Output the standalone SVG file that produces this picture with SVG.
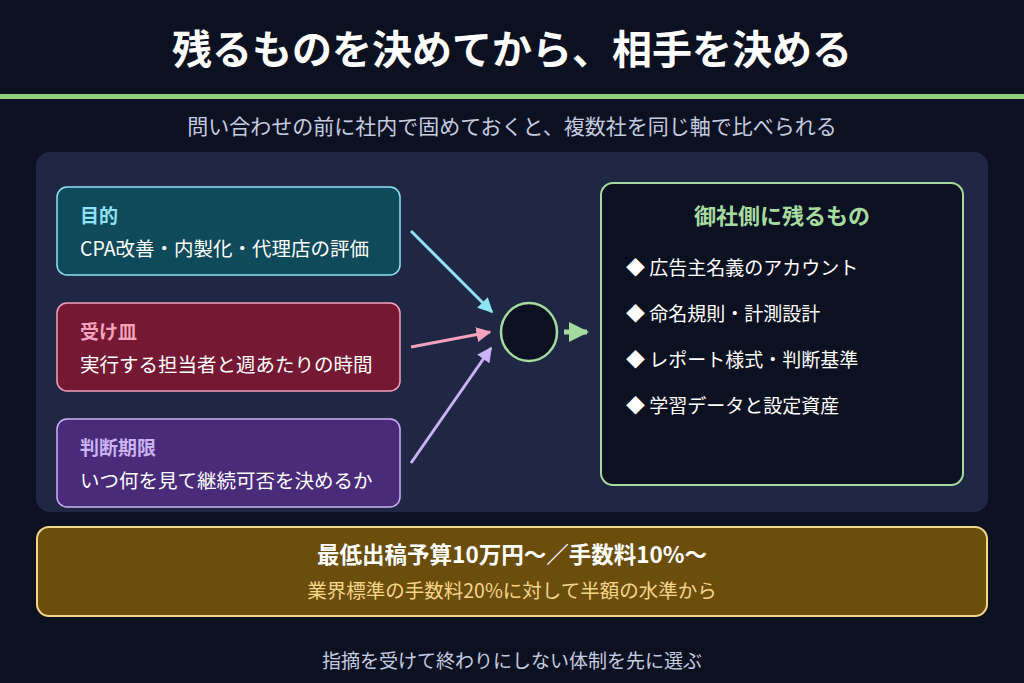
<svg xmlns="http://www.w3.org/2000/svg" width="1024" height="683" viewBox="0 0 1024 683">
<defs>
<style>
text{font-family:"Noto Sans CJK JP","Noto Sans",sans-serif}
.h{font-weight:700;font-size:19px}
.b{font-size:19.5px;fill:#ffffff}
.li{font-size:19px;fill:#ffffff}
</style>
<marker id="ac" viewBox="0 0 10 10" refX="9" refY="5" markerWidth="5" markerHeight="5" orient="auto"><path d="M0 0L10 5L0 10z" fill="#8ee3f5"/></marker>
<marker id="ap" viewBox="0 0 10 10" refX="9" refY="5" markerWidth="5" markerHeight="5" orient="auto"><path d="M0 0L10 5L0 10z" fill="#f5a3bd"/></marker>
<marker id="av" viewBox="0 0 10 10" refX="9" refY="5" markerWidth="5" markerHeight="5" orient="auto"><path d="M0 0L10 5L0 10z" fill="#cbb2f5"/></marker>
<marker id="ag" viewBox="0 0 10 10" refX="9" refY="5" markerWidth="4" markerHeight="4" orient="auto"><path d="M0 0L10 5L0 10z" fill="#a6dba0"/></marker>
</defs>
<rect width="1024" height="683" fill="#0c1122"/>
<rect y="94" width="1024" height="5" fill="#8bd07a"/>
<text x="512" y="64" text-anchor="middle" font-size="40" font-weight="700" fill="#ffffff">残るものを決めてから、相手を決める</text>
<text x="512" y="134" text-anchor="middle" font-size="21" fill="#c5cce0">問い合わせの前に社内で固めておくと、複数社を同じ軸で比べられる</text>
<rect x="36" y="152" width="952" height="360" rx="14" fill="#1f2744"/>
<g id="n1"><rect x="57" y="187" width="343" height="88" rx="10" fill="#0f4a5a" stroke="#8ee3f5" stroke-width="1.5"/><text class="h" x="80" y="223" fill="#8ee3f5">目的</text><text class="b" x="80" y="256">CPA改善・内製化・代理店の評価</text></g>
<g id="n2"><rect x="57" y="303" width="343" height="88" rx="10" fill="#751834" stroke="#f5a3bd" stroke-width="1.5"/><text class="h" x="80" y="339" fill="#f5a3bd">受け皿</text><text class="b" x="80" y="372">実行する担当者と週あたりの時間</text></g>
<g id="n3"><rect x="57" y="419" width="343" height="88" rx="10" fill="#4a2b7a" stroke="#cbb2f5" stroke-width="1.5"/><text class="h" x="80" y="455" fill="#cbb2f5">判断期限</text><text class="b" x="80" y="488">いつ何を見て継続可否を決めるか</text></g>
<g id="hub"><ellipse cx="529" cy="332" rx="28" ry="29" fill="#0c1122" stroke="#a6dba0" stroke-width="2.5"/></g>
<g id="out"><rect x="601" y="183" width="362" height="302" rx="12" fill="#0c1122" stroke="#a6dba0" stroke-width="2"/>
<text x="782" y="224" text-anchor="middle" font-size="22" font-weight="700" fill="#a6dba0">御社側に残るもの</text>
<text class="li" x="626" y="275">◆ 広告主名義のアカウント</text>
<text class="li" x="626" y="321">◆ 命名規則・計測設計</text>
<text class="li" x="626" y="367">◆ レポート様式・判断基準</text>
<text class="li" x="626" y="413">◆ 学習データと設定資産</text></g>
<g id="edges" stroke-width="3" fill="none">
<line x1="411" y1="231" x2="492" y2="312" stroke="#8ee3f5" marker-end="url(#ac)"/>
<line x1="411" y1="347" x2="490" y2="332" stroke="#f5a3bd" marker-end="url(#ap)"/>
<line x1="411" y1="463" x2="491" y2="348" stroke="#cbb2f5" marker-end="url(#av)"/>
<line x1="564" y1="332" x2="587" y2="332" stroke="#a6dba0" stroke-width="5" marker-end="url(#ag)"/>
</g>
<g id="banner"><rect x="37" y="527" width="950" height="89" rx="12" fill="#6b4e0c" stroke="#f5d58a" stroke-width="2"/>
<text x="512" y="563" text-anchor="middle" font-size="22.5" font-weight="700" fill="#ffffff">最低出稿予算10万円〜／手数料10%〜</text>
<text x="512" y="598" text-anchor="middle" font-size="19.5" fill="#f5d58a">業界標準の手数料20%に対して半額の水準から</text></g>
<text x="512" y="668" text-anchor="middle" font-size="19" fill="#c5cce0">指摘を受けて終わりにしない体制を先に選ぶ</text>
</svg>
